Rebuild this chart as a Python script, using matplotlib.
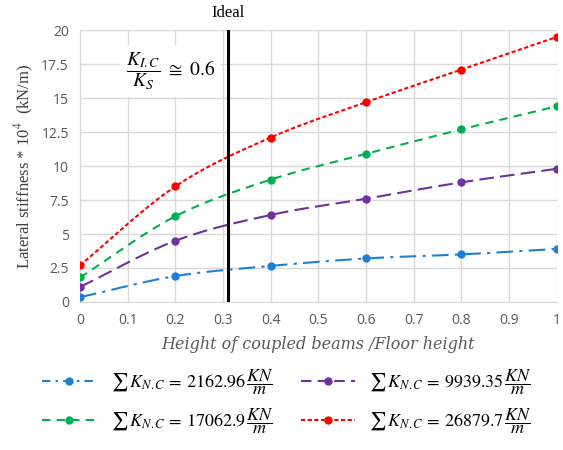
import numpy as np
import matplotlib
matplotlib.use("Agg")
import matplotlib.pyplot as plt

plt.rcParams['mathtext.fontset'] = 'stix'

x = [0, 0.2, 0.4, 0.6, 0.8, 1.0]
k_2162 = [0.35, 1.9, 2.65, 3.2, 3.5, 3.9]
k_9939 = [1.1, 4.5, 6.4, 7.6, 8.8, 9.8]
k_17062 = [1.8, 6.3, 9.0, 10.9, 12.7, 14.4]
k_26879 = [2.7, 8.5, 12.1, 14.7, 17.1, 19.5]
ideal_x = 0.31

labels = [r'$\sum\, K_{N.C}\, =\, 2162.96\,\dfrac{KN}{m}$',
          r'$\sum\, K_{N.C}\, =\, 9939.35\,\dfrac{KN}{m}$',
          r'$\sum\, K_{N.C}\, =\, 17062.9\,\dfrac{KN}{m}$',
          r'$\sum\, K_{N.C}\, =\, 26879.7\,\dfrac{KN}{m}$']


def smooth(xs, ys, n=20):
    # catmull-rom curve through the points, like excel's smoothed line
    xs = np.asarray(xs, float)
    ys = np.asarray(ys, float)
    px = np.concatenate([[2 * xs[0] - xs[1]], xs, [2 * xs[-1] - xs[-2]]])
    py = np.concatenate([[2 * ys[0] - ys[1]], ys, [2 * ys[-1] - ys[-2]]])
    out_x, out_y = [], []
    t = np.linspace(0, 1, n)
    for i in range(1, len(px) - 2):
        for p, out in ((px, out_x), (py, out_y)):
            p0, p1, p2, p3 = p[i - 1], p[i], p[i + 1], p[i + 2]
            out.extend(0.5 * (2 * p1 + (-p0 + p2) * t
                              + (2 * p0 - 5 * p1 + 4 * p2 - p3) * t ** 2
                              + (-p0 + 3 * p1 - 3 * p2 + p3) * t ** 3))
    return out_x, out_y


fig = plt.figure(figsize=(5.63, 4.5), dpi=100)
ax = fig.add_axes([0.142, 0.329, 0.847, 0.604])

# data, colour, line style, legend-handle style, label
series = [
    (k_2162, '#1f7fd0', (0, (8, 3, 1.5, 3)), (0, (4, 2.5, 1.2, 2.5)), labels[0]),
    (k_17062, '#00b050', (0, (4, 3)), (0, (4, 3)), labels[2]),
    (k_9939, '#7030a0', (0, (7, 3)), (0, (5, 3)), labels[1]),
    (k_26879, '#ff0000', (0, (2, 1.2)), (0, (2, 1.2)), labels[3]),
]
handles = []
for ys, col, ls, hls, lab in series:
    sx, sy = smooth(x, ys)
    ax.plot(sx, sy, color=col, linestyle=ls, linewidth=1.5, zorder=3)
    ax.plot(x, ys, 'o', color=col, markersize=5, zorder=4)
    h, = ax.plot([], [], color=col, linestyle=hls, linewidth=1.5, marker='o', markersize=5, label=lab)
    handles.append(h)

ax.axvline(ideal_x, color='black', linewidth=2.2, zorder=5)
ax.text(ideal_x, 20.7, 'Ideal', ha='center', va='bottom', fontsize=12, family='Liberation Serif')
ax.text(0.19, 17.0, r'$\dfrac{K_{I.C}}{K_S}\ \cong\ 0.6$', ha='center', va='center', fontsize=14,
        bbox=dict(facecolor='white', edgecolor='none', pad=4), zorder=6)

ax.set_xlim(0, 1)
ax.set_ylim(0, 20)
ax.set_xticks(np.arange(0, 1.01, 0.1))
ax.set_xticklabels(['0', '0.1', '0.2', '0.3', '0.4', '0.5', '0.6', '0.7', '0.8', '0.9', '1'])
ax.set_yticks(np.arange(0, 20.1, 2.5))
ax.set_yticklabels(['0', '2.5', '5', '7.5', '10', '12.5', '15', '17.5', '20'])
ax.tick_params(length=0, labelsize=10, colors='#595959', pad=8)
for lab in ax.get_xticklabels() + ax.get_yticklabels():
    lab.set_family('Open Sans')
ax.grid(True, color='#d9d9d9', linewidth=1)
ax.set_axisbelow(True)
for s in ['top', 'right']:
    ax.spines[s].set_visible(False)
for s in ['left', 'bottom']:
    ax.spines[s].set_color('#d9d9d9')

ax.set_ylabel(r'Lateral stiffness * 10$^4$  (kN/m)', fontsize=12, family='Liberation Serif', color='#404040')
ax.set_xlabel('Height of coupled beams /Floor height', fontsize=11.5, family='DejaVu Serif', style='italic',
              color='#595959', labelpad=6)

fig.legend(handles=handles, loc='upper center', bbox_to_anchor=(0.51, 0.22), ncol=2, frameon=False,
           fontsize=13, handlelength=3.0, columnspacing=1.5, labelspacing=0.5)

plt.savefig('out.png', dpi=100)
